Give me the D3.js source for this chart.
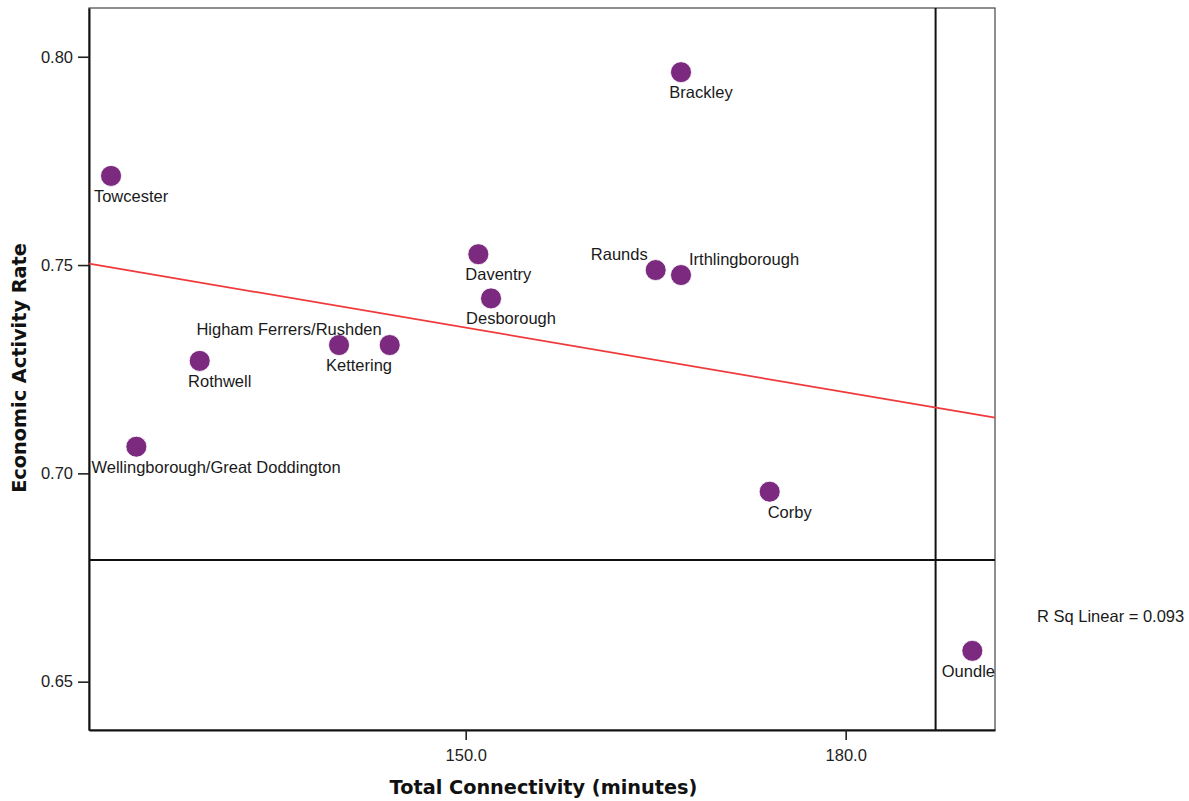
<!DOCTYPE html>
<html>
<head>
<meta charset="utf-8">
<script src="https://cdn.jsdelivr.net/npm/d3@7"></script>
<style>
    body { margin: 0; background: #fff; }
    svg text { font-family: "Liberation Sans", Arial, sans-serif; }
</style>
</head>
<body>
<svg id="chart" width="1189" height="801"></svg>
<script>
// towns, connectivity (minutes) and economic activity rate
var towns = ["Brackley", "Towcester", "Daventry", "Desborough", "Raunds", "Irthlingborough",
    "Kettering", "Higham Ferrers/Rushden", "Rothwell", "Wellingborough/Great Doddington", "Corby", "Oundle"];
var connectivity = [167, 122, 151, 152, 165, 167, 140, 144, 129, 124, 174, 190];
var activityRate = [0.7963, 0.7714, 0.7526, 0.7420, 0.7488, 0.7476, 0.7308, 0.7308, 0.7270, 0.7064, 0.6956, 0.6574];

var xTicks = [150, 180];
var yTicks = [0.65, 0.70, 0.75, 0.80];
var xDomain = [120.26, 191.79];
var yDomain = [0.6384, 0.8117];
// reference lines
var refX = 187.1;
var refY = 0.6792;
// labels that sit beside their point instead of below it
var sideLabels = { "Raunds": "left", "Irthlingborough": "right", "Higham Ferrers/Rushden": "left" };

var svg = d3.select("#chart");
var plotL = 89, plotR = 995, plotT = 8, plotB = 730;

var x = d3.scaleLinear().domain(xDomain).range([plotL, plotR]);
var y = d3.scaleLinear().domain(yDomain).range([plotB, plotT]);

var data = towns.map(function (t, i) {
    return { name: t, x: connectivity[i], y: activityRate[i] };
});

// frame
svg.append("rect")
    .attr("x", plotL).attr("y", plotT)
    .attr("width", plotR - plotL).attr("height", plotB - plotT)
    .attr("fill", "none").attr("stroke", "#444").attr("stroke-width", 1.2);

// axes
var xAxis = svg.append("g")
    .attr("transform", "translate(0," + plotB + ")")
    .call(d3.axisBottom(x).tickValues(xTicks).tickFormat(d3.format(".1f")).tickSize(10).tickSizeOuter(0));
var yAxis = svg.append("g")
    .attr("transform", "translate(" + plotL + ",0)")
    .call(d3.axisLeft(y).tickValues(yTicks).tickFormat(d3.format(".2f")).tickSize(11).tickSizeOuter(0));

[xAxis, yAxis].forEach(function (g) {
    g.select(".domain").attr("stroke", "#111").attr("stroke-width", 2);
    g.selectAll(".tick line").attr("stroke", "#222").attr("stroke-width", 1.6);
    g.selectAll(".tick text")
        .attr("fill", "#222")
        .style("font-size", "16.5px")
        .style("font-family", "'Liberation Sans', Arial, sans-serif");
});
xAxis.selectAll(".tick text").attr("y", 19);
yAxis.selectAll(".tick text").attr("x", -16);

// axis titles
svg.append("text")
    .attr("x", (plotL + plotR) / 2 + 1.5)
    .attr("y", 794)
    .attr("text-anchor", "middle")
    .style("font-family", "'DejaVu Sans', Verdana, sans-serif")
    .style("font-weight", "bold")
    .style("font-size", "19.3px")
    .attr("fill", "#111")
    .text("Total Connectivity (minutes)");

svg.append("text")
    .attr("transform", "translate(26," + 368 + ") rotate(-90)")
    .attr("text-anchor", "middle")
    .style("font-family", "'DejaVu Sans', Verdana, sans-serif")
    .style("font-weight", "bold")
    .style("font-size", "19.3px")
    .attr("fill", "#111")
    .text("Economic Activity Rate");

// reference lines
svg.append("line")
    .attr("x1", x(refX)).attr("x2", x(refX))
    .attr("y1", plotT).attr("y2", plotB)
    .attr("stroke", "#111").attr("stroke-width", 2);
svg.append("line")
    .attr("x1", plotL).attr("x2", plotR)
    .attr("y1", y(refY)).attr("y2", y(refY))
    .attr("stroke", "#111").attr("stroke-width", 2);

// linear fit
var mx = d3.mean(connectivity), my = d3.mean(activityRate);
var sxy = d3.sum(data, function (d) { return (d.x - mx) * (d.y - my); });
var sxx = d3.sum(data, function (d) { return (d.x - mx) * (d.x - mx); });
var syy = d3.sum(data, function (d) { return (d.y - my) * (d.y - my); });
var slope = sxy / sxx;
var intercept = my - slope * mx;
var rSq = sxy * sxy / (sxx * syy);

svg.append("line")
    .attr("x1", x(xDomain[0])).attr("y1", y(intercept + slope * xDomain[0]))
    .attr("x2", x(xDomain[1])).attr("y2", y(intercept + slope * xDomain[1]))
    .attr("stroke", "#f0393b").attr("stroke-width", 1.8);

// points
svg.append("g")
    .selectAll("circle")
    .data(data)
    .enter()
    .append("circle")
    .attr("cx", function (d) { return x(d.x); })
    .attr("cy", function (d) { return y(d.y); })
    .attr("r", 10.5)
    .attr("fill", "#7b2a7f")
    .attr("stroke", "#fff")
    .attr("stroke-width", 0.8);

// point labels
var labels = svg.append("g")
    .selectAll("text")
    .data(data)
    .enter()
    .append("text")
    .style("font-size", "16.5px")
    .attr("fill", "#1a1a1a")
    .text(function (d) { return d.name; });

labels.each(function (d) {
    var t = d3.select(this);
    var cx = x(d.x), cy = y(d.y);
    var side = sideLabels[d.name];
    if (side === "left") {
        t.attr("text-anchor", "end").attr("x", cx - 8).attr("y", cy - 10);
    } else if (side === "right") {
        t.attr("text-anchor", "start").attr("x", cx + 8).attr("y", cy - 10);
    } else {
        var w = this.getComputedTextLength();
        var start = cx + 20 - w / 2;
        start = Math.max(plotL + 2.5, Math.min(plotR - w, start));
        t.attr("text-anchor", "start").attr("x", start).attr("y", cy + 26);
    }
});

// fit summary
svg.append("text")
    .attr("x", 1037)
    .attr("y", 622)
    .style("font-size", "16.5px")
    .attr("fill", "#1a1a1a")
    .text("R Sq Linear = " + d3.format(".3f")(rSq));
</script>
</body>
</html>
